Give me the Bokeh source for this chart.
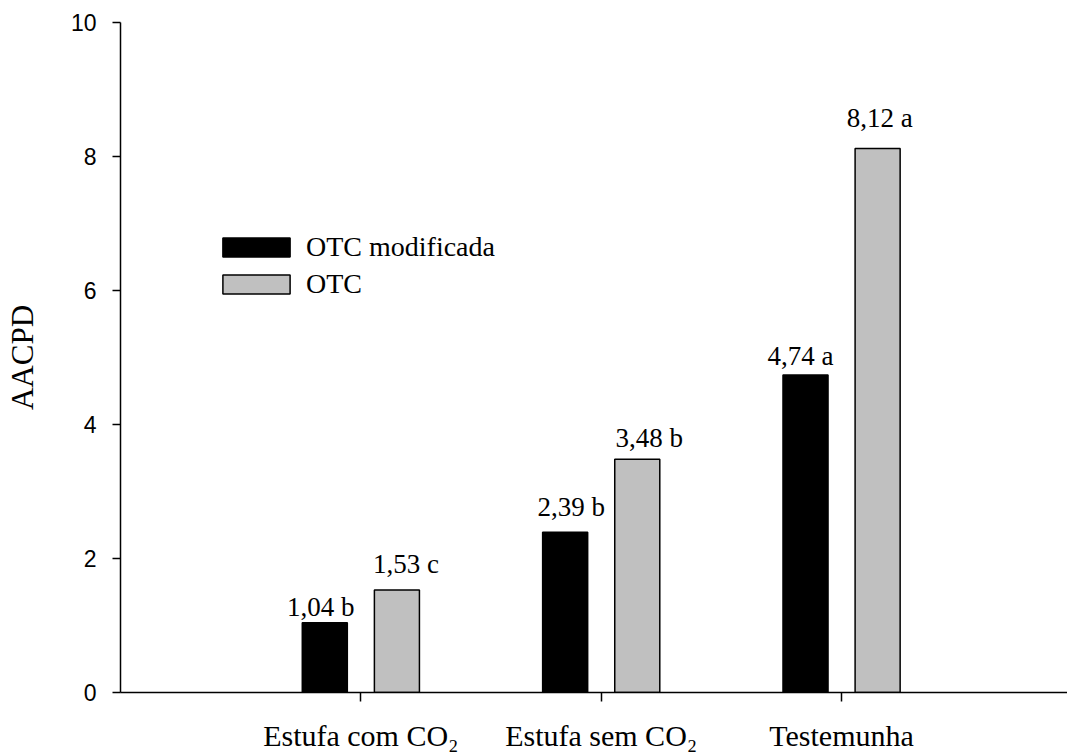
from bokeh.plotting import figure
from bokeh.models import ColumnDataSource, Range1d, FixedTicker, Legend, LegendItem
from bokeh.core.properties import value
from bokeh.embed import file_html
from bokeh.resources import INLINE

# ---- data ----
categories = ["Estufa com CO\u2082", "Estufa sem CO\u2082", "Testemunha"]
series_names = ["OTC modificada", "OTC"]
otc_modificada = [1.04, 2.39, 4.74]
otc = [1.53, 3.48, 8.12]
letters_modificada = ["b", "b", "a"]
letters_otc = ["c", "b", "a"]
y_ticks = [0, 2, 4, 6, 8, 10]

SERIF = "Liberation Serif"
SANS = "Liberation Sans"

p = figure(width=1067, height=755, output_backend="svg", toolbar_location=None,
           x_range=Range1d(0, 3.94), y_range=Range1d(0, 10),
           min_border_left=120, min_border_right=0, min_border_top=22, min_border_bottom=63)
p.outline_line_color = None
p.grid.grid_line_color = None
p.background_fill_color = "white"
p.border_fill_color = "white"

xpos = [i + 1 for i in range(len(categories))]
off = 0.15
bw = 0.1874

src_a = ColumnDataSource(dict(x=[x - off for x in xpos], top=otc_modificada))
src_b = ColumnDataSource(dict(x=[x + off for x in xpos], top=otc))
ra = p.vbar(x="x", top="top", bottom=0, width=bw, source=src_a,
            fill_color="black", line_color="black", line_width=1.5)
rb = p.vbar(x="x", top="top", bottom=0, width=bw, source=src_b,
            fill_color="#C0C0C0", line_color="black", line_width=1.5)

# value labels above bars
def fmt(v):
    return ("%.2f" % v).replace(".", ",")

lab_x, lab_y, lab_t = [], [], []
for i in range(len(categories)):
    lab_x += [xpos[i] - off, xpos[i] + off]
    lab_y += [otc_modificada[i], otc[i]]
    lab_t += [fmt(otc_modificada[i]) + " " + letters_modificada[i], fmt(otc[i]) + " " + letters_otc[i]]
lab_dx = [-4, 9, 6, 12, -5, 2]
lab_dy = [-16, -26, -25, -21, -19, -30]
src_t = ColumnDataSource(dict(x=lab_x, y=lab_y, t=lab_t, dx=lab_dx, dy=lab_dy))
p.text(x="x", y="y", text="t", x_offset="dx", y_offset="dy", source=src_t,
       text_font=value(SERIF), text_font_size="27px", text_color="black",
       text_align="center", text_baseline="alphabetic")

# axes
p.xaxis.ticker = FixedTicker(ticks=xpos)
p.xaxis.major_label_overrides = {x: categories[i] for i, x in enumerate(xpos)}
p.xaxis.major_label_text_font = SERIF
p.xaxis.major_label_text_font_size = "30px"
p.xaxis.major_label_text_color = "black"
p.xaxis.major_label_standoff = 17
p.xaxis.minor_tick_line_color = None
p.xaxis.major_tick_out = 9
p.xaxis.major_tick_in = 0
p.xaxis.axis_line_width = 1.5
p.xaxis.major_tick_line_width = 1.5
p.xaxis.axis_line_color = "black"
p.xaxis.major_tick_line_color = "black"

p.yaxis.ticker = FixedTicker(ticks=y_ticks)
p.yaxis.minor_tick_line_color = None
p.yaxis.major_tick_out = 8
p.yaxis.major_tick_in = 0
p.yaxis.axis_line_width = 1.5
p.yaxis.major_tick_line_width = 1.5
p.yaxis.axis_line_color = "black"
p.yaxis.major_tick_line_color = "black"
p.yaxis.major_label_text_font = SANS
p.yaxis.major_label_text_font_size = "23px"
p.yaxis.major_label_text_color = "black"
p.yaxis.major_label_standoff = 16
p.yaxis.axis_label = "AACPD"
p.yaxis.axis_label_text_font = SERIF
p.yaxis.axis_label_text_font_size = "31px"
p.yaxis.axis_label_text_font_style = "normal"
p.yaxis.axis_label_text_color = "black"
p.yaxis.axis_label_standoff = 28

legend = Legend(items=[LegendItem(label=series_names[0], renderers=[ra]),
                       LegendItem(label=series_names[1], renderers=[rb])],
                location=(94, 392), orientation="vertical")
legend.padding = 0
legend.margin = 0
legend.spacing = 5
legend.glyph_width = 84
legend.glyph_height = 24
legend.label_height = 24
legend.label_standoff = 8
legend.label_text_font = SERIF
legend.label_text_font_size = "28px"
legend.label_text_color = "black"
legend.border_line_color = None
legend.background_fill_alpha = 0
p.add_layout(legend, "center")

open("out.html", "w").write(file_html(p, INLINE))
